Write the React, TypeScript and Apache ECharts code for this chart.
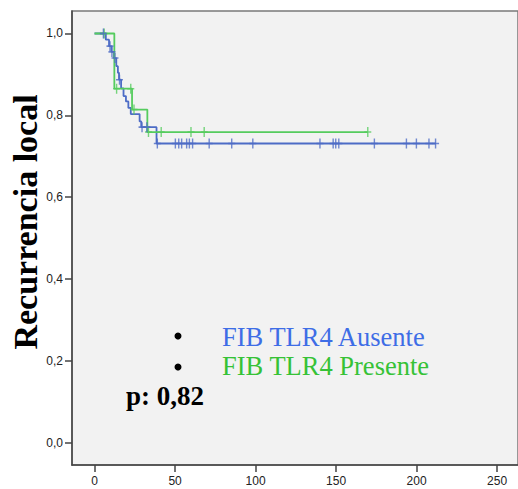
import React, { useEffect, useRef } from "react";
import * as echarts from "echarts";

// ---- data ----
const xTickValues = [0, 50, 100, 150, 200, 250];
const yTickValues = [0, 0.2, 0.4, 0.6, 0.8, 1.0];

const blueEventTimes = [0, 7, 9, 10.5, 12, 13.5, 14.5, 15.2, 16.5, 18, 19.5, 21, 22.5, 28, 29, 38.5, 212];
const blueSurvival = [1.0, 0.985, 0.969, 0.955, 0.94, 0.92, 0.904, 0.887, 0.866, 0.847, 0.834, 0.818, 0.803, 0.785, 0.771, 0.731, 0.731];
const blueCensorTimes = [5.5, 9.6, 10.8, 12.7, 15.5, 29.5, 32.5, 39, 50.2, 52.3, 54.1, 57.2, 58.9, 60.9, 71.2, 85.2, 98.3, 140.0, 148.2, 149.8, 151.7, 173.8, 193.7, 199.9, 207.7, 211.8];

const greenEventTimes = [0, 12.3, 23.3, 32.8, 169.7];
const greenSurvival = [1.0, 0.865, 0.814, 0.759, 0.759];
const greenCensorTimes = [6, 13.7, 22.5, 24.5, 33.5, 41.4, 59.9, 68.1, 169.7];

const legendLabels = ["FIB TLR4 Ausente", "FIB TLR4 Presente"];
const pValueText = "p: 0,82";
const yAxisTitle = "Recurrencia local";

const BLUE_LINE = "#4d6cc6";
const GREEN_LINE = "#55cc5e";
const BLUE_TEXT = "#3e6de6";
const GREEN_TEXT = "#36c236";

function survAt(times: number[], surv: number[], t: number) {
  let s = surv[0];
  for (let i = 0; i < times.length; i++) {
    if (times[i] <= t) s = surv[i];
  }
  return s;
}

const plus = "path://M3.2,0H4.8V4.2H8V5.8H4.8V10H3.2V5.8H0V4.2H3.2Z";

export default function App() {
  const ref = useRef<HTMLDivElement>(null);
  useEffect(() => {
    if (!ref.current) return;
    const chart = echarts.init(ref.current, undefined, { renderer: "svg" });
    const blueLine = blueEventTimes.map((t, i) => [t, blueSurvival[i]]);
    const greenLine = greenEventTimes.map((t, i) => [t, greenSurvival[i]]);
    const blueCens = blueCensorTimes.map((t) => [t, survAt(blueEventTimes, blueSurvival, t)]);
    const greenCens = greenCensorTimes.map((t) => [t, survAt(greenEventTimes, greenSurvival, t)]);

    chart.setOption({
      animation: false,
      backgroundColor: "#ffffff",
      grid: {
        left: 72,
        top: 11,
        width: 450,
        height: 454,
        show: true,
        backgroundColor: "#f2f2f2",
        borderColor: "#7a7a7a",
        borderWidth: 1.5,
      },
      xAxis: {
        type: "value",
        min: -14,
        max: 263,
        splitLine: { show: false },
        axisLine: { show: true, onZero: false, lineStyle: { color: "#444", width: 1.5 } },
        axisTick: { show: true, length: 7, customValues: xTickValues, lineStyle: { color: "#444", width: 1.5 } },
        axisLabel: {
          customValues: xTickValues,
          color: "#222",
          fontSize: 12,
          fontFamily: "Liberation Sans, Arial, sans-serif",
          margin: 10,
        },
      },
      yAxis: {
        type: "value",
        min: -0.055,
        max: 1.055,
        splitLine: { show: false },
        axisLine: { show: true, onZero: false, lineStyle: { color: "#444", width: 1.5 } },
        axisTick: { show: true, length: 7, customValues: yTickValues, lineStyle: { color: "#444", width: 1.5 } },
        axisLabel: {
          customValues: yTickValues,
          color: "#222",
          fontSize: 12,
          fontFamily: "Liberation Sans, Arial, sans-serif",
          margin: 9,
          formatter: (v: number) => v.toFixed(1).replace(".", ","),
        },
      },
      series: [
        {
          type: "line",
          step: "end",
          data: blueLine,
          showSymbol: false,
          lineStyle: { color: BLUE_LINE, width: 1.8 },
          z: 2,
        },
        {
          type: "line",
          step: "end",
          data: greenLine,
          showSymbol: false,
          lineStyle: { color: GREEN_LINE, width: 1.8 },
          z: 3,
        },
        {
          type: "scatter",
          data: greenCens,
          symbol: plus,
          symbolSize: [7, 10],
          itemStyle: { color: GREEN_LINE },
          z: 4,
        },
        {
          type: "scatter",
          data: blueCens,
          symbol: plus,
          symbolSize: [7, 10],
          itemStyle: { color: BLUE_LINE },
          z: 5,
        },
      ],
      graphic: [
        {
          type: "text",
          x: 25,
          y: 222,
          rotation: Math.PI / 2,
          style: {
            text: yAxisTitle,
            font: "bold 34px 'Liberation Serif', 'Times New Roman', serif",
            fill: "#000",
            align: "center",
            verticalAlign: "middle",
          },
        },
        { type: "circle", shape: { cx: 178, cy: 336, r: 3.5 }, style: { fill: "#000" } },
        { type: "circle", shape: { cx: 178, cy: 367, r: 3.5 }, style: { fill: "#000" } },
        {
          type: "text",
          x: 222,
          y: 337,
          style: {
            text: legendLabels[0],
            font: "26.5px 'Liberation Serif', 'Times New Roman', serif",
            fill: BLUE_TEXT,
            align: "left",
            verticalAlign: "middle",
          },
        },
        {
          type: "text",
          x: 222,
          y: 366,
          style: {
            text: legendLabels[1],
            font: "26.5px 'Liberation Serif', 'Times New Roman', serif",
            fill: GREEN_TEXT,
            align: "left",
            verticalAlign: "middle",
          },
        },
        {
          type: "text",
          x: 126,
          y: 396,
          style: {
            text: pValueText,
            font: "bold 27px 'Liberation Serif', 'Times New Roman', serif",
            fill: "#000",
            align: "left",
            verticalAlign: "middle",
          },
        },
      ],
    });
    return () => chart.dispose();
  }, []);
  return (
    <div
      ref={ref}
      style={{ position: "absolute", left: 0, top: 0, width: 518, height: 489, overflow: "hidden" }}
    />
  );
}
